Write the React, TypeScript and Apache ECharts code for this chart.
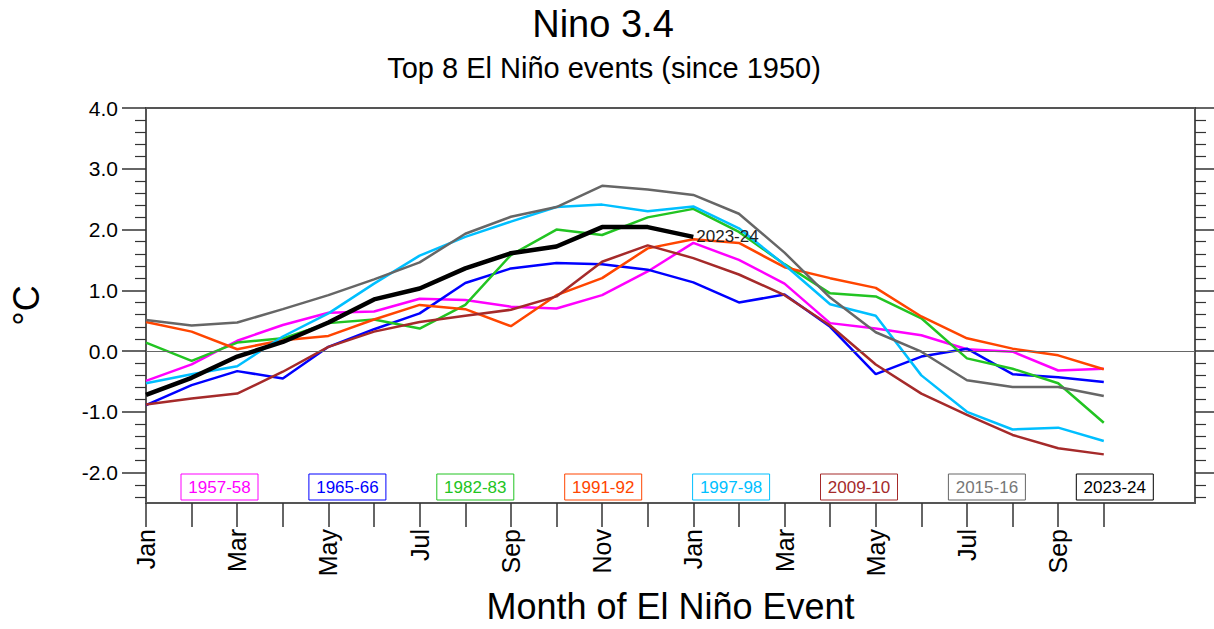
import React, { useEffect, useRef } from "react";
import * as echarts from "echarts";

const months = [
  "Jan", "Feb", "Mar", "Apr", "May", "Jun", "Jul", "Aug", "Sep", "Oct", "Nov", "Dec",
  "Jan", "Feb", "Mar", "Apr", "May", "Jun", "Jul", "Aug", "Sep", "Oct", "Nov", "Dec",
];

const events = ["1957-58", "1965-66", "1982-83", "1991-92", "1997-98", "2009-10", "2015-16", "2023-24"];
const lineColors = ["#FF00FF", "#0000FF", "#22C422", "#FF4500", "#00BFFF", "#A52A2A", "#666666", "#000000"];
const legendTextColors = ["#FF00FF", "#0000FF", "#22C422", "#FF4500", "#00BFFF", "#A52A2A", "#777777", "#000000"];

const e1957 = [-0.49, -0.22, 0.17, 0.43, 0.63, 0.65, 0.86, 0.84, 0.73, 0.70, 0.92, 1.31, 1.78, 1.50, 1.11, 0.46, 0.37, 0.26, 0.03, -0.01, -0.32, -0.29];
const e1965 = [-0.89, -0.56, -0.33, -0.45, 0.07, 0.36, 0.62, 1.12, 1.36, 1.45, 1.43, 1.34, 1.13, 0.80, 0.93, 0.40, -0.38, -0.09, 0.04, -0.38, -0.43, -0.51];
const e1982 = [0.14, -0.16, 0.14, 0.21, 0.46, 0.52, 0.37, 0.76, 1.58, 2.00, 1.91, 2.20, 2.34, 1.96, 1.43, 0.95, 0.90, 0.54, -0.12, -0.29, -0.53, -1.18];
const e1991 = [0.48, 0.32, 0.03, 0.18, 0.25, 0.52, 0.76, 0.69, 0.41, 0.92, 1.20, 1.69, 1.84, 1.78, 1.38, 1.20, 1.04, 0.57, 0.21, 0.04, -0.07, -0.30];
const e1997 = [-0.53, -0.38, -0.25, 0.24, 0.62, 1.11, 1.57, 1.88, 2.13, 2.37, 2.41, 2.30, 2.38, 2.02, 1.42, 0.77, 0.58, -0.40, -1.00, -1.29, -1.26, -1.48];
const e2009 = [-0.88, -0.78, -0.70, -0.34, 0.07, 0.32, 0.48, 0.58, 0.68, 0.90, 1.47, 1.74, 1.53, 1.26, 0.92, 0.42, -0.22, -0.70, -1.05, -1.38, -1.60, -1.70];
const e2015 = [0.51, 0.42, 0.47, 0.69, 0.92, 1.18, 1.46, 1.93, 2.21, 2.37, 2.72, 2.66, 2.57, 2.26, 1.62, 0.88, 0.31, -0.01, -0.48, -0.59, -0.59, -0.74];
const e2023 = [-0.72, -0.44, -0.09, 0.15, 0.47, 0.85, 1.03, 1.36, 1.61, 1.72, 2.04, 2.04, 1.88];

const seriesValues = [e1957, e1965, e1982, e1991, e1997, e2009, e2015, e2023];

const yMajorTicks = [-2, -1, 0, 1, 2, 3, 4];
const yMinorTicks = [
  -2.4, -2.2, -1.8, -1.6, -1.4, -1.2, -0.8, -0.6, -0.4, -0.2,
  0.2, 0.4, 0.6, 0.8, 1.2, 1.4, 1.6, 1.8, 2.2, 2.4, 2.6, 2.8,
  3.2, 3.4, 3.6, 3.8,
];
const lastTickIndex = 21;

const FONT = "'Liberation Sans', Arial, Helvetica, sans-serif";

export default function App() {
  const ref = useRef<HTMLDivElement>(null);

  useEffect(() => {
    document.body.style.margin = "0";
    const chart = echarts.init(ref.current!, null, { renderer: "svg" });

    const gridLeft = 145;
    const gridTop = 108;
    const gridRight = 19;
    const gridBottom = 126;

    const frameColor = "#555";
    const tickColor = "#333";

    const series: any[] = seriesValues.map((vals, i) => {
      const isLast = i === seriesValues.length - 1;
      const s: any = {
        type: "line",
        name: events[i],
        data: vals,
        symbol: "none",
        xAxisIndex: 0,
        yAxisIndex: 0,
        lineStyle: { color: lineColors[i], width: isLast ? 4.5 : 2.5 },
        itemStyle: { color: lineColors[i] },
        z: isLast ? 5 : 3,
      };
      if (isLast) {
        s.endLabel = {
          show: true,
          formatter: events[i],
          fontSize: 17,
          fontFamily: FONT,
          color: "#222",
          distance: 3,
        };
      }
      if (i === 0) {
        s.markLine = {
          silent: true,
          symbol: "none",
          label: { show: false },
          lineStyle: { color: "#666", width: 1, type: "solid" },
          data: [{ yAxis: 0 }],
        };
      }
      return s;
    });

    const boxW = 77;
    const boxH = 26;
    const boxTop = 474;
    const boxStart = gridLeft + 36;
    const boxStep = 127.9;
    const graphics: any[] = [];
    events.forEach((name, i) => {
      const x = boxStart + i * boxStep;
      graphics.push({
        type: "rect",
        shape: { x, y: boxTop, width: boxW, height: boxH },
        style: { fill: "#fff", stroke: lineColors[i], lineWidth: 1, opacity: 1 },
        z: 10,
      });
      graphics.push({
        type: "text",
        x: x + boxW / 2,
        y: boxTop + boxH / 2,
        style: {
          text: name,
          fill: legendTextColors[i],
          font: `17px ${FONT}`,
          align: "center",
          verticalAlign: "middle",
        },
        z: 11,
      });
    });

    const yBase = {
      type: "value",
      min: -2.5,
      max: 4,
      splitLine: { show: false },
    };

    chart.setOption({
      animation: false,
      backgroundColor: "#fff",
      title: [
        {
          text: "Nino 3.4",
          left: 603,
          top: 5,
          textAlign: "center",
          padding: 0,
          textStyle: { fontSize: 38, fontWeight: "normal", fontFamily: FONT, color: "#000" },
        },
        {
          text: "Top 8 El Niño events (since 1950)",
          left: 604,
          top: 53,
          textAlign: "center",
          padding: 0,
          textStyle: { fontSize: 29, fontWeight: "normal", fontFamily: FONT, color: "#000" },
        },
      ],
      grid: {
        left: gridLeft,
        top: gridTop,
        right: gridRight,
        bottom: gridBottom,
        show: true,
        borderColor: frameColor,
        borderWidth: 2,
        backgroundColor: "transparent",
      },
      xAxis: [
        {
          type: "category",
          data: months,
          boundaryGap: false,
          position: "bottom",
          axisLine: { show: true, onZero: false, lineStyle: { color: frameColor, width: 2 } },
          axisTick: {
            show: true,
            interval: (index: number) => index <= lastTickIndex,
            length: 24,
            lineStyle: { color: tickColor, width: 1.5 },
          },
          axisLabel: {
            interval: (index: number) => index % 2 === 0 && index <= lastTickIndex,
            rotate: 90,
            fontSize: 25,
            fontFamily: FONT,
            color: "#000",
            margin: 26,
          },
          name: "Month of El Niño Event",
          nameLocation: "middle",
          nameGap: 85,
          nameTextStyle: { fontSize: 36, fontFamily: FONT, color: "#000" },
          splitLine: { show: false },
        },
      ],
      yAxis: [
        {
          ...yBase,
          position: "left",
          axisLine: { show: true, lineStyle: { color: frameColor, width: 2 } },
          axisTick: {
            show: true,
            customValues: yMajorTicks,
            length: 24,
            lineStyle: { color: tickColor, width: 1.5 },
          },
          axisLabel: {
            customValues: yMajorTicks,
            formatter: (v: number) => v.toFixed(1),
            fontSize: 21,
            fontFamily: FONT,
            color: "#000",
            margin: 28,
          },
          name: "°C",
          nameLocation: "middle",
          nameRotate: 90,
          nameGap: 102,
          nameTextStyle: { fontSize: 36, fontFamily: FONT, color: "#000" },
        },
        {
          ...yBase,
          position: "left",
          axisLine: { show: false },
          axisLabel: { show: false },
          axisTick: {
            show: true,
            customValues: yMinorTicks,
            length: 11,
            lineStyle: { color: tickColor, width: 1.2 },
          },
        },
        {
          ...yBase,
          position: "right",
          axisLine: { show: true, lineStyle: { color: frameColor, width: 2 } },
          axisLabel: { show: false },
          axisTick: {
            show: true,
            customValues: yMajorTicks,
            length: 24,
            lineStyle: { color: tickColor, width: 1.5 },
          },
        },
        {
          ...yBase,
          position: "right",
          axisLine: { show: false },
          axisLabel: { show: false },
          axisTick: {
            show: true,
            customValues: yMinorTicks,
            length: 11,
            lineStyle: { color: tickColor, width: 1.2 },
          },
        },
      ],
      series,
      graphic: graphics,
    });

    return () => {
      chart.dispose();
    };
  }, []);

  return (
    <div
      ref={ref}
      style={{ position: "absolute", left: 0, top: 0, width: 1214, height: 629 }}
    />
  );
}
